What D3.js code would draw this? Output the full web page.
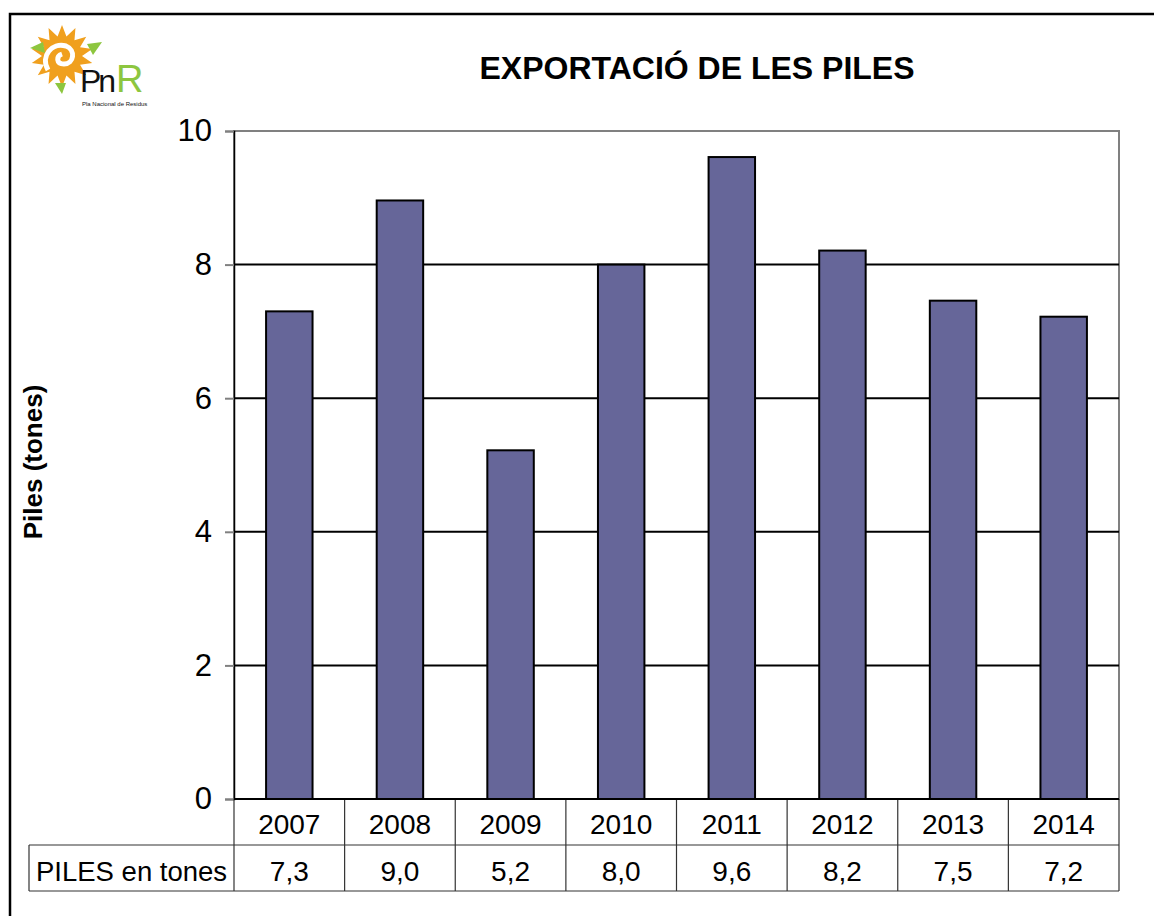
<!DOCTYPE html>
<html>
<head>
<meta charset="utf-8">
<style>
  body { margin: 0; background: #fff; }
  svg text { font-family: "Liberation Sans", Arial, sans-serif; }
</style>
</head>
<body>
<svg width="1154" height="916"></svg>
<script src="https://d3js.org/d3.v7.min.js"></script>
<script>

var years = ["2007", "2008", "2009", "2010", "2011", "2012", "2013", "2014"];
var piles = [7.3, 8.96, 5.22, 8.0, 9.61, 8.21, 7.46, 7.22];
var yTicks = [0, 2, 4, 6, 8, 10];
var seriesName = "PILES en tones";
var title = "EXPORTACIÓ DE LES PILES";
var yTitle = "Piles (tones)";

var svg = d3.select("svg");

var plotLeft = 234, plotRight = 1119, plotTop = 131, plotBottom = 799;
var rowH = 46;

var x = d3.scaleBand()
    .domain(years)
    .range([plotLeft, plotRight]);

var y = d3.scaleLinear()
    .domain([0, 10])
    .range([plotBottom, plotTop]);

var fmt = function(v) { return d3.format(".1f")(v).replace(".", ","); };

// outer frame
svg.append("rect")
    .attr("x", 10).attr("y", 14)
    .attr("width", 1160).attr("height", 920)
    .attr("fill", "none")
    .attr("stroke", "#000")
    .attr("stroke-width", 2.5);

// title
svg.append("text")
    .attr("x", 697).attr("y", 79)
    .attr("text-anchor", "middle")
    .attr("font-size", 32)
    .attr("font-weight", "bold")
    .text(title);

// plot border (grey top / right)
svg.append("rect")
    .attr("x", plotLeft).attr("y", plotTop)
    .attr("width", plotRight - plotLeft).attr("height", plotBottom - plotTop)
    .attr("fill", "#fff")
    .attr("stroke", "#808080")
    .attr("stroke-width", 2);

// gridlines
svg.append("g")
  .selectAll("line")
  .data(yTicks.filter(function(d) { return d > 0 && d < 10; }))
  .enter().append("line")
    .attr("x1", plotLeft).attr("x2", plotRight)
    .attr("y1", function(d) { return y(d); })
    .attr("y2", function(d) { return y(d); })
    .attr("stroke", "#000")
    .attr("stroke-width", 2);

// y axis
var yAxis = svg.append("g")
    .attr("transform", "translate(" + plotLeft + ",0)")
    .call(d3.axisLeft(y).tickValues(yTicks).tickSize(9).tickPadding(13).tickFormat(d3.format("d")));
yAxis.select(".domain").attr("stroke", "#000").attr("stroke-width", 1.5);
yAxis.selectAll(".tick line").attr("stroke", "#808080").attr("stroke-width", 2);
yAxis.selectAll(".tick text")
    .attr("font-size", 31)
    .attr("fill", "#000")
    .attr("font-family", "Liberation Sans, Arial, sans-serif");

// bars
var bw = x.bandwidth() * 0.42;
svg.append("g")
  .selectAll("rect")
  .data(piles)
  .enter().append("rect")
    .attr("x", function(d, i) { return x(years[i]) + (x.bandwidth() - bw) / 2; })
    .attr("y", function(d) { return y(d); })
    .attr("width", bw)
    .attr("height", function(d) { return y(0) - y(d); })
    .attr("fill", "#666699")
    .attr("stroke", "#000")
    .attr("stroke-width", 2);

// data table
var table = svg.append("g").attr("stroke", "#333").attr("stroke-width", 1.2);
table.append("line")
    .attr("x1", plotLeft).attr("x2", plotRight)
    .attr("y1", plotBottom + rowH).attr("y2", plotBottom + rowH);
table.append("line")
    .attr("x1", 29).attr("x2", plotRight)
    .attr("y1", plotBottom + rowH * 2).attr("y2", plotBottom + rowH * 2);
table.append("line")
    .attr("x1", 29).attr("x2", plotLeft)
    .attr("y1", plotBottom + rowH).attr("y2", plotBottom + rowH);
table.append("line")
    .attr("x1", 29).attr("x2", 29)
    .attr("y1", plotBottom + rowH).attr("y2", plotBottom + rowH * 2);
table.selectAll(".sep")
  .data(years.concat(["end"]))
  .enter().append("line")
    .attr("class", "sep")
    .attr("x1", function(d, i) { return plotLeft + i * x.step(); })
    .attr("x2", function(d, i) { return plotLeft + i * x.step(); })
    .attr("y1", plotBottom).attr("y2", plotBottom + rowH * 2);

svg.append("g")
  .selectAll("text")
  .data(years)
  .enter().append("text")
    .attr("x", function(d) { return x(d) + x.bandwidth() / 2; })
    .attr("y", plotBottom + 35)
    .attr("text-anchor", "middle")
    .attr("font-size", 28)
    .text(function(d) { return d; });

svg.append("g")
  .selectAll("text")
  .data(piles)
  .enter().append("text")
    .attr("x", function(d, i) { return x(years[i]) + x.bandwidth() / 2; })
    .attr("y", plotBottom + rowH + 36)
    .attr("text-anchor", "middle")
    .attr("font-size", 28)
    .text(function(d) { return fmt(d); });

svg.append("text")
    .attr("x", 36).attr("y", plotBottom + rowH + 36)
    .attr("font-size", 27.5)
    .text(seriesName);

// bottom axis line
svg.append("line")
    .attr("x1", plotLeft).attr("x2", plotRight)
    .attr("y1", plotBottom).attr("y2", plotBottom)
    .attr("stroke", "#000")
    .attr("stroke-width", 2);

// y title
svg.append("text")
    .attr("transform", "translate(42,462) rotate(-90)")
    .attr("text-anchor", "middle")
    .attr("font-size", 26)
    .attr("font-weight", "bold")
    .text(yTitle);

// logo
var logo = svg.append("g").attr("transform", "translate(62,56)");
logo.append("polygon")
    .attr("points", d3.range(28).map(function(i) {
      var a = i * Math.PI / 14 - Math.PI / 2;
      var r = i % 2 ? 20 : 31;
      return [Math.cos(a) * r, Math.sin(a) * r].join(",");
    }).join(" "))
    .attr("fill", "#F0A01E");
logo.append("path")
    .attr("d", "M-14,14 C-22,0 -10,-14 4,-10 C14,-6 12,8 2,8 C-6,8 -6,0 0,-2")
    .attr("fill", "none")
    .attr("stroke", "#fff")
    .attr("stroke-width", 5);
logo.append("path").attr("d", "M-32,-8 L-19,-14 L-17,-3 Z").attr("fill", "#8DC63F");
logo.append("path").attr("d", "M25,-12 L40,-14 L31,-1 Z").attr("fill", "#8DC63F");
logo.append("path").attr("d", "M-7,27 L4,27 L0,38 Z").attr("fill", "#8DC63F");
logo.append("text")
    .attr("x", 18).attr("y", 36)
    .attr("font-size", 32)
    .attr("font-family", "DejaVu Sans, sans-serif")
    .attr("letter-spacing", -3)
    .attr("fill", "#111")
    .text("Pn");
logo.append("text")
    .attr("x", 54).attr("y", 36)
    .attr("font-size", 38)
    .attr("fill", "#8DC63F")
    .text("R");
logo.append("text")
    .attr("x", 20).attr("y", 50)
    .attr("font-size", 6)
    .attr("fill", "#111")
    .text("Pla Nacional de Residus");

</script>
</body>
</html>
